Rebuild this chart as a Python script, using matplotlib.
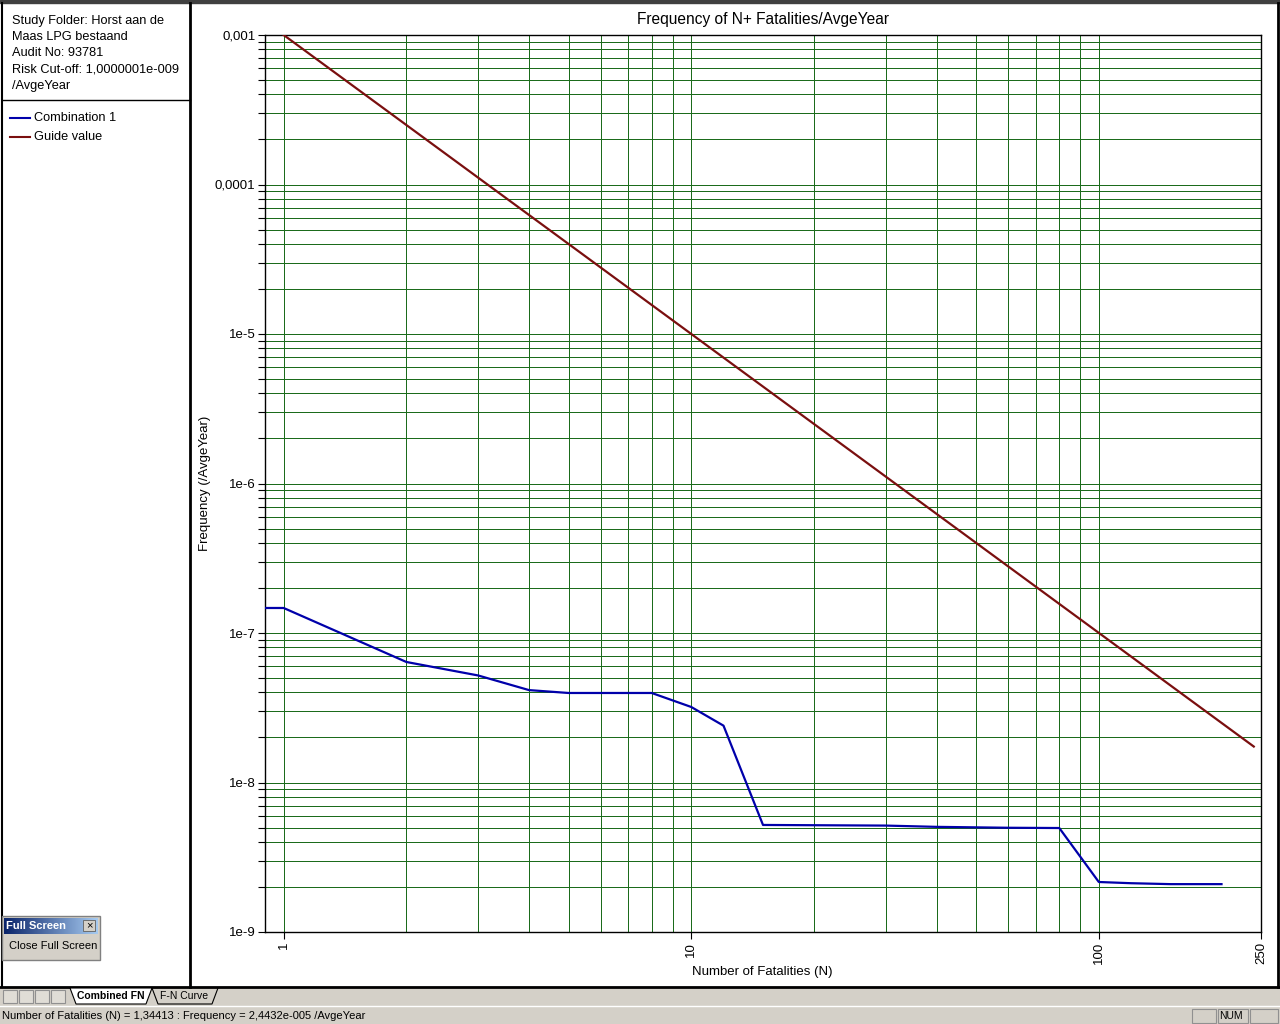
import numpy as np
import matplotlib
matplotlib.use("Agg")
import matplotlib.pyplot as plt
from matplotlib.patches import Rectangle, Polygon
from matplotlib.ticker import FixedLocator, NullFormatter, FixedFormatter

plt.rcParams['font.family'] = ['Liberation Sans', 'DejaVu Sans']

# data
combo_n = [0.9, 1, 2, 3, 4, 5, 8, 10, 12, 15, 30, 40, 60, 80, 100, 120, 150, 200]
combo_f = [1.47e-7, 1.47e-7, 6.4e-8, 5.2e-8, 4.15e-8, 3.97e-8, 3.97e-8, 3.2e-8, 2.4e-8,
           5.2e-9, 5.15e-9, 5.05e-9, 4.98e-9, 4.96e-9, 2.16e-9, 2.12e-9, 2.09e-9, 2.09e-9]
guide_n = [1, 240]
guide_f = [1e-3, 1.74e-8]

y_major = [1e-3, 1e-4, 1e-5, 1e-6, 1e-7, 1e-8, 1e-9]
y_labels = ['0,001', '0,0001', '1e-5', '1e-6', '1e-7', '1e-8', '1e-9']
x_major = [1, 10, 100, 250]
x_labels = ['1', '10', '100', '250']

info_lines = ['Study Folder: Horst aan de', 'Maas LPG bestaand', 'Audit No: 93781',
              'Risk Cut-off: 1,0000001e-009', '/AvgeYear']
legend_items = [('Combination 1', '#0000aa'), ('Guide value', '#7a0f0f')]
status_text = 'Number of Fatalities (N) = 1,34413 : Frequency = 2,4432e-005 /AvgeYear'

grid_col = '#1b6b1b'
ui_gray = '#d4d0c8'

fig = plt.figure(figsize=(12.8, 10.24), dpi=100)

# --- window chrome in pixel coordinates ---
bg = fig.add_axes([0, 0, 1, 1])
bg.set_xlim(0, 1280)
bg.set_ylim(1024, 0)
bg.axis('off')

bg.add_patch(Rectangle((0, 0), 1280, 1024, color='white', zorder=0))
bg.add_patch(Rectangle((0, 0), 1280, 3, color='#404040', zorder=1))
# left panel borders
bg.plot([2, 2], [3, 987], color='black', lw=1.5)
bg.plot([190, 190], [3, 987], color='black', lw=2)
bg.plot([2, 190], [100, 100], color='black', lw=1)
bg.plot([1278, 1278], [3, 987], color='black', lw=2)
# bottom tab strip + status bar
bg.add_patch(Rectangle((0, 987), 1280, 37, color=ui_gray, zorder=1))
bg.plot([0, 1280], [987, 987], color='black', lw=2, zorder=2)
bg.plot([0, 1280], [1006, 1006], color='white', lw=1, zorder=2)

for i, t in enumerate(info_lines):
    bg.text(12, 21 + i * 16.2, t, fontsize=9.2, va='center', ha='left')
for i, (name, c) in enumerate(legend_items):
    y = 118 + i * 19
    bg.plot([10, 30], [y, y], color=c, lw=1.5)
    bg.text(34, y, name, fontsize=9.2, va='center', ha='left')

# nav buttons
for x0 in [3, 19, 35, 51]:
    bg.add_patch(Rectangle((x0, 990), 14, 13, facecolor='#e0ddd6', edgecolor='#909090', lw=0.8, zorder=3))
# tabs
bg.add_patch(Polygon([[70, 988], [76, 1004], [146, 1004], [152, 988]], closed=True,
                     facecolor='white', edgecolor='black', lw=0.8, zorder=3))
bg.text(111, 996, 'Combined FN', fontsize=7.5, fontweight='bold', ha='center', va='center', zorder=4)
bg.plot([152, 158, 212, 218], [988, 1004, 1004, 988], color='black', lw=0.8, zorder=3)
bg.text(184, 996, 'F-N Curve', fontsize=7.5, ha='center', va='center', zorder=4)

bg.text(2, 1016, status_text, fontsize=8, ha='left', va='center', zorder=4)
bg.add_patch(Rectangle((1192, 1009), 24, 14, facecolor=ui_gray, edgecolor='#909090', lw=0.8, zorder=3))
bg.add_patch(Rectangle((1218, 1009), 30, 14, facecolor=ui_gray, edgecolor='#909090', lw=0.8, zorder=3))
bg.text(1231, 1016, 'NUM', fontsize=7.5, ha='center', va='center', zorder=4)
bg.add_patch(Rectangle((1250, 1009), 28, 14, facecolor=ui_gray, edgecolor='#909090', lw=0.8, zorder=3))

# full screen toolbar
bg.add_patch(Rectangle((2, 916), 98, 44, facecolor=ui_gray, edgecolor='#808080', lw=1, zorder=3))
grad = np.linspace(0, 1, 100).reshape(1, -1)
bg.imshow(grad, extent=[4, 98, 934, 918], cmap=matplotlib.colors.LinearSegmentedColormap.from_list(
    'tb', ['#0a246a', '#a6caf0']), aspect='auto', zorder=4)
bg.text(6, 926, 'Full Screen', fontsize=8, color='white', fontweight='bold', va='center', zorder=5)
bg.add_patch(Rectangle((83, 920), 12, 11, facecolor=ui_gray, edgecolor='#606060', lw=0.6, zorder=5))
bg.text(89, 925.5, '×', fontsize=8, ha='center', va='center', zorder=6)
bg.text(9, 946, 'Close Full Screen', fontsize=8, va='center', zorder=5)

# --- the chart ---
ax = fig.add_axes([265 / 1280, 92 / 1024, 996 / 1280, 897 / 1024])
ax.set_xscale('log')
ax.set_yscale('log')
ax.set_xlim(0.9, 250)
ax.set_ylim(1e-9, 1e-3)

ax.plot(guide_n, guide_f, color=legend_items[1][1], lw=1.6, zorder=3)
ax.plot(combo_n, combo_f, color=legend_items[0][1], lw=1.6, zorder=4)

x_minor = [m * d for d in [1, 10] for m in range(2, 10)]
ax.xaxis.set_major_locator(FixedLocator(x_major))
ax.xaxis.set_major_formatter(FixedFormatter(x_labels))
ax.xaxis.set_minor_locator(FixedLocator(x_minor))
ax.xaxis.set_minor_formatter(NullFormatter())
ax.yaxis.set_major_locator(FixedLocator(y_major))
ax.yaxis.set_major_formatter(FixedFormatter(y_labels))
y_minor = [m * d for d in [1e-9, 1e-8, 1e-7, 1e-6, 1e-5, 1e-4] for m in range(2, 10)]
ax.yaxis.set_minor_locator(FixedLocator(y_minor))
ax.yaxis.set_minor_formatter(NullFormatter())

for v in x_major[:-1] + x_minor:
    ax.axvline(v, color=grid_col, lw=0.6, zorder=1, snap=True, antialiased=False)
for v in y_major + y_minor:
    ax.axhline(v, color=grid_col, lw=0.6, zorder=1, snap=True, antialiased=False)

ax.tick_params(axis='both', which='both', direction='out', length=5, width=0.8, labelsize=9.5, pad=2)
ax.tick_params(axis='x', which='minor', length=0)
for lab in ax.get_xticklabels():
    lab.set_rotation(90)
for s in ax.spines.values():
    s.set_linewidth(1)

ax.set_title('Frequency of N+ Fatalities/AvgeYear', fontsize=11.2, pad=8)
ax.set_xlabel('Number of Fatalities (N)', fontsize=9.5)
ax.set_ylabel('Frequency (/AvgeYear)', fontsize=9.5)
ax.xaxis.set_label_coords(0.4995, -0.0379)
ax.yaxis.set_label_coords(-0.054, 0.5)

fig.savefig('out.png', dpi=100)
